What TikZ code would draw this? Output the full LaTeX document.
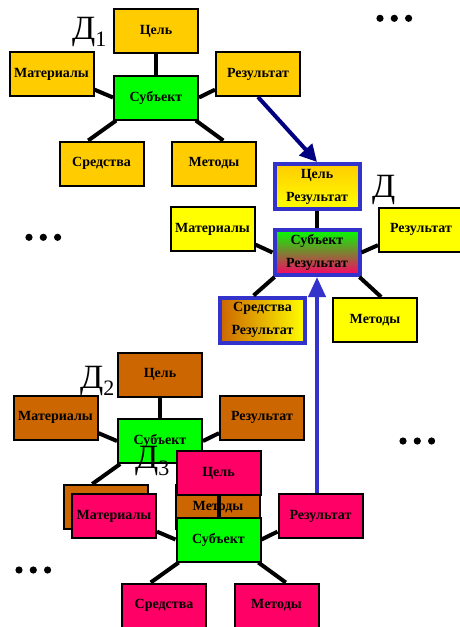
\documentclass[tikz,border=0pt]{standalone}
\usepackage{fontspec}
\setmainfont{Liberation Serif}
\usepackage{tikz}
\usetikzlibrary{calc,arrows.meta}
\definecolor{actgold}{HTML}{FFCC00}
\definecolor{actyellow}{HTML}{FFFF00}
\definecolor{actgreen}{HTML}{00FF00}
\definecolor{actbrown}{HTML}{CC6600}
\definecolor{actpink}{HTML}{FF0066}
\definecolor{actblue}{HTML}{3333CC}
\definecolor{actnavy}{HTML}{000080}
\tikzstyle{actbox}=[draw=black, line width=2pt, minimum width=84pt, minimum height=44pt, inner sep=0pt, font=\bfseries\fontsize{14}{16}\selectfont]
\tikzstyle{resbox}=[actbox, draw=actblue, line width=4pt, minimum width=85pt, minimum height=45pt, align=center]
\tikzstyle{link}=[line width=4pt]
\tikzstyle{dlabel}=[inner sep=0pt, anchor=base west, font=\fontsize{34}{34}\selectfont]
\newcommand{\subidx}[1]{\raisebox{-7pt}{\fontsize{22}{22}\selectfont #1}}
% one activity: #1 prefix, #2 centre of the subject, #3 fill
\newcommand{\actNet}[3]{
	\node[actbox, fill=actgreen] (#1subj) at #2 {Субъект};
	\node[actbox, fill=#3] (#1goal) at ($#2+(0,-66.5)$) {Цель};
	\node[actbox, fill=#3] (#1mat) at ($#2+(-104.5,-23.5)$) {Материалы};
	\node[actbox, fill=#3] (#1res) at ($#2+(102,-23.5)$) {Результат};
	\node[actbox, fill=#3] (#1tool) at ($#2+(-54.5,66)$) {Средства};
	\node[actbox, fill=#3] (#1meth) at ($#2+(58,66)$) {Методы};
	\draw[link] (#1subj) -- (#1goal);
	\draw[link] (#1subj.180) -- (#1mat.-20);
	\draw[link] (#1subj.0) -- (#1res.-160);
	\draw[link] (#1subj.-150) -- (#1tool.120);
	\draw[link] (#1subj.-30) -- (#1meth.68);
}

\begin{document}
\begin{tikzpicture}[x=1pt, y=-1pt]
	\useasboundingbox (0,0) rectangle (460,627);
	% dots
	\foreach \x/\y in {380/18.3, 29/237.3, 403/441, 19/570}
		\foreach \k in {0,1,2}
			\fill (\x+14.3*\k,\y) circle (3.6pt);

	% first activity
	\actNet{a}{(156,97.5)}{actgold}
	\node[dlabel] (alab) at (72,39) {Д\subidx{1}};

	% resulting activity
	\node[resbox, top color=actgreen, bottom color=actpink] (dsubj) at (317,252.5) {Субъект\\[7pt]Результат};
	\node[resbox, top color=actgold, bottom color=actyellow] (dgoal) at (317,186.5) {Цель\\[7pt]Результат};
	\node[actbox, fill=actyellow] (dmat) at (212.5,229) {Материалы};
	\node[actbox, fill=actyellow] (dres) at (421,229.5) {Результат};
	\node[resbox, left color=actbrown, right color=actyellow] (dtool) at (262.5,320) {Средства\\[7pt]Результат};
	\node[actbox, fill=actyellow] (dmeth) at (375,320) {Методы};
	\draw[link] (dsubj) -- (dgoal);
	\draw[link] (dsubj.180) -- (dmat.-20);
	\draw[link] (dsubj.0) -- (dres.-160);
	\draw[link] (dsubj.-150) -- (dtool.110);
	\draw[link] (dsubj.-30) -- (dmeth.75);
	\node[dlabel] (dlab) at (372,197) {Д};

	% second and third activity
	\actNet{b}{(160,441)}{actbrown}
	\node[dlabel] (blab) at (80,388) {Д\subidx{2}};
	\node[dlabel] (clab) at (135,468) {Д\subidx{3}};
	\actNet{c}{(218.5,539.5)}{actpink}

	% transfers of the result
	\draw[actnavy, line width=4pt, -{Triangle[length=17pt, width=17pt]}] (ares.south) -- (dgoal.north);
	\draw[actblue, line width=4pt, -{Triangle[length=20pt, width=17pt]}] (dsubj.south |- cres.north) -- (dsubj.south);
\end{tikzpicture}
\end{document}
